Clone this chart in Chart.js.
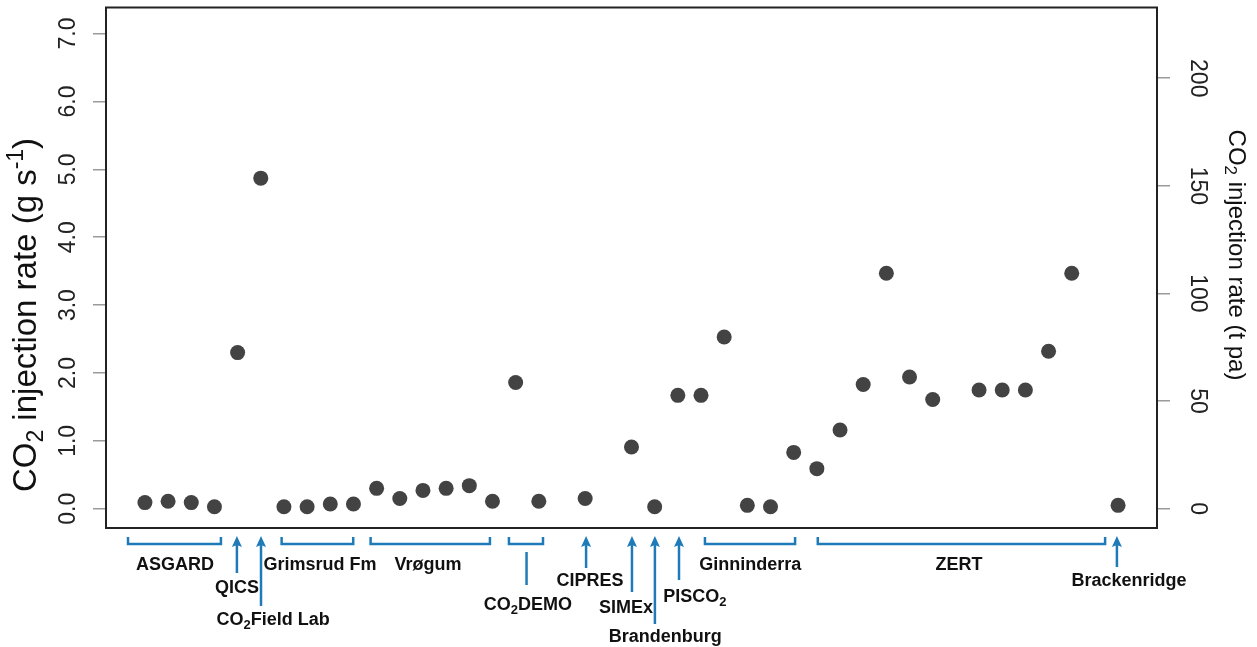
<!DOCTYPE html>
<html>
<head>
<meta charset="utf-8">
<title>CO2 injection rates</title>
<script src="https://cdn.jsdelivr.net/npm/chart.js@4"></script>
<style>
  html, body { margin: 0; padding: 0; background: #fff; }
  canvas { display: block; }
</style>
</head>
<body>
<canvas id="rateChart" width="1257" height="647"></canvas>
<script>
// ==============================
// DATA
// ==============================
// one slot per experiment position along the x axis (slot = index + 1), null = empty slot
const injectionRate = [
  0.09, 0.11, 0.09, 0.03,            // ASGARD
  2.30,                              // QICS
  4.87,                              // CO2 Field Lab
  0.03, 0.03, 0.07, 0.07,            // Grimsrud Fm
  0.30, 0.15, 0.27, 0.30, 0.34, 0.11,// Vrogum
  1.86, 0.11,                        // CO2DEMO
  null,
  0.15,                              // CIPRES
  null,
  0.91,                              // SIMEx
  0.03,                              // Brandenburg
  1.67, 1.67,                        // PISCO2
  2.53, 0.05, 0.03, 0.83,            // Ginninderra
  0.59, 1.16, 1.83, 3.47, 1.94, 1.61, null, 1.75, 1.75, 1.75, 2.32, 3.47, // ZERT
  null,
  0.05                               // Brackenridge
];

const leftTicks = [0, 1, 2, 3, 4, 5, 6, 7];        // g s-1
const rightTicks = [0, 50, 100, 150, 200];         // t pa
const G_S_TO_T_PA = 31.536;                        // 1 g/s = 31.536 t per annum

// site labels under the plot, in x-slot units
const brackets = [
  { parts: [["ASGARD"]], from: 0.27, to: 4.28, labelX: 2.3 },
  { parts: [["Grimsrud Fm"]], from: 6.9, to: 9.99, labelX: 8.56 },
  { parts: [["Vrøgum"]], from: 10.74, to: 15.89, labelX: 13.22 },
  { parts: [["Ginninderra"]], from: 25.17, to: 29.06, labelX: 27.13 },
  { parts: [["ZERT"]], from: 30.04, to: 42.44, labelX: 36.13 },
];

const arrows = [
  { parts: [["QICS"]], at: 4.97, base: 573, labelX: 4.97, labelY: 588 },
  { parts: [["CO"], ["2", "sub"], ["Field Lab"]], at: 6.01, base: 606, labelX: 6.53, labelY: 620 },
  { parts: [["CIPRES"]], at: 20.04, base: 568, labelX: 20.21, labelY: 581 },
  { parts: [["SIMEx"]], at: 22.02, base: 592, labelX: 21.76, labelY: 608 },
  { parts: [["Brandenburg"]], at: 23.01, base: 624, labelX: 23.46, labelY: 637 },
  { parts: [["PISCO"], ["2", "sub"]], at: 24.05, base: 580, labelX: 24.73, labelY: 597 },
  { parts: [["Brackenridge"]], at: 42.95, base: 567, labelX: 43.47, labelY: 581 },
];

// CO2DEMO: bracket with a stem below it
const stemBracket = { parts: [["CO"], ["2", "sub"], ["DEMO"]], from: 16.71, to: 18.18, stem: 17.47, labelX: 17.53, labelY: 605 };

const Y_MIN = -0.284;
const Y_MAX = 7.384;

const FONT = '"Liberation Sans", Arial, Helvetica, sans-serif';
const BLUE = "#1f7bb8";

// ==============================
// HELPERS
// ==============================
function drawRich(ctx, parts, x, y, size, weight, align) {
  const fontFor = (kind) => `${weight} ${kind ? Math.round(size * 0.7) : size}px ${FONT}`;
  const widths = parts.map(([t, kind]) => {
    ctx.font = fontFor(kind);
    return ctx.measureText(t).width;
  });
  const total = widths.reduce((a, b) => a + b, 0);
  let cx = align === "center" ? x - total / 2 : x;
  ctx.textAlign = "left";
  ctx.textBaseline = "middle";
  parts.forEach(([t, kind], i) => {
    ctx.font = fontFor(kind);
    let dy = 0;
    if (kind === "sub") dy = size * 0.28;
    if (kind === "sup") dy = -size * 0.32;
    ctx.fillText(t, cx, y + dy);
    cx += widths[i];
  });
}

function drawRotated(ctx, parts, x, y, angle, size, weight) {
  ctx.save();
  ctx.translate(x, y);
  ctx.rotate(angle);
  drawRich(ctx, parts, 0, 0, size, weight, "center");
  ctx.restore();
}

// ==============================
// PLUGIN: box, tick labels, titles, site annotations
// ==============================
const decorPlugin = {
  id: "decor",
  afterDraw(chart) {
    const { ctx, chartArea: area, scales } = chart;
    const xs = scales.x;

    ctx.save();

    // plot box
    ctx.strokeStyle = "#222";
    ctx.lineWidth = 2;
    ctx.strokeRect(area.left, area.top, area.right - area.left, area.bottom - area.top);

    // tick labels
    ctx.fillStyle = "#222";
    leftTicks.forEach((v) => {
      drawRotated(ctx, [[v.toFixed(1)]], 69, scales.y.getPixelForValue(v), -Math.PI / 2, 23, "normal");
    });
    rightTicks.forEach((v) => {
      drawRotated(ctx, [[String(v)]], 1197, scales.y2.getPixelForValue(v), Math.PI / 2, 23, "normal");
    });

    // axis titles
    ctx.fillStyle = "#111";
    drawRotated(ctx, [["CO"], ["2", "sub"], [" injection rate (g s"], ["-1", "sup"], [")"]],
      27, 315, -Math.PI / 2, 33, "normal");
    drawRotated(ctx, [["CO"], ["2", "sub"], [" injection rate (t pa)"]],
      1236, 255, Math.PI / 2, 24, "normal");

    // site annotations
    const top = 537;
    const bracketY = 544;
    ctx.strokeStyle = BLUE;
    ctx.fillStyle = BLUE;
    ctx.lineWidth = 2.5;
    ctx.lineCap = "butt";

    const drawBracket = (b) => {
      const x1 = xs.getPixelForValue(b.from);
      const x2 = xs.getPixelForValue(b.to);
      ctx.beginPath();
      ctx.moveTo(x1, bracketY - 7);
      ctx.lineTo(x1, bracketY);
      ctx.lineTo(x2, bracketY);
      ctx.lineTo(x2, bracketY - 7);
      ctx.stroke();
    };

    brackets.forEach(drawBracket);
    drawBracket(stemBracket);
    const sx = xs.getPixelForValue(stemBracket.stem);
    ctx.beginPath();
    ctx.moveTo(sx, 552);
    ctx.lineTo(sx, 585);
    ctx.stroke();

    arrows.forEach((a) => {
      const x = xs.getPixelForValue(a.at);
      ctx.beginPath();
      ctx.moveTo(x, a.base);
      ctx.lineTo(x, top + 6);
      ctx.stroke();
      ctx.beginPath();
      ctx.moveTo(x, top - 1);
      ctx.lineTo(x - 5, top + 10);
      ctx.lineTo(x, top + 8);
      ctx.lineTo(x + 5, top + 10);
      ctx.closePath();
      ctx.fill();
    });

    ctx.fillStyle = "#111";
    brackets.forEach((b) => {
      drawRich(ctx, b.parts, xs.getPixelForValue(b.labelX), 565, 18, "bold", "center");
    });
    arrows.forEach((a) => {
      drawRich(ctx, a.parts, xs.getPixelForValue(a.labelX), a.labelY, 18, "bold", "center");
    });
    drawRich(ctx, stemBracket.parts, xs.getPixelForValue(stemBracket.labelX), stemBracket.labelY, 18, "bold", "center");

    ctx.restore();
  },
};

// ==============================
// CHART
// ==============================
const points = injectionRate
  .map((v, i) => ({ x: i + 1, y: v }))
  .filter((p) => p.y !== null);

const tickGrid = {
  display: true,
  drawOnChartArea: false,
  drawTicks: true,
  tickLength: 13,
  color: "#9a9a9a",
  lineWidth: 1.5,
};

new Chart(document.getElementById("rateChart"), {
  type: "scatter",
  data: {
    datasets: [
      {
        label: "CO2 injection rate",
        data: points,
        pointRadius: 7.5,
        pointHoverRadius: 7.5,
        pointBackgroundColor: "#434343",
        pointBorderWidth: 0,
        clip: false,
      },
    ],
  },
  options: {
    responsive: false,
    animation: false,
    layout: { padding: { top: 7, bottom: 119, left: 0, right: 0 } },
    scales: {
      x: {
        type: "linear",
        min: -0.68,
        max: 44.68,
        display: false,
      },
      y: {
        position: "left",
        min: Y_MIN,
        max: Y_MAX,
        afterBuildTicks: (s) => { s.ticks = leftTicks.map((v) => ({ value: v })); },
        afterFit: (s) => { s.width = 106; },
        ticks: { display: false },
        grid: tickGrid,
        border: { display: false },
      },
      y2: {
        position: "right",
        min: Y_MIN * G_S_TO_T_PA,
        max: Y_MAX * G_S_TO_T_PA,
        afterBuildTicks: (s) => { s.ticks = rightTicks.map((v) => ({ value: v })); },
        afterFit: (s) => { s.width = 100; },
        ticks: { display: false },
        grid: tickGrid,
        border: { display: false },
      },
    },
    plugins: {
      legend: { display: false },
      tooltip: { enabled: false },
    },
  },
  plugins: [decorPlugin],
});
</script>
</body>
</html>
